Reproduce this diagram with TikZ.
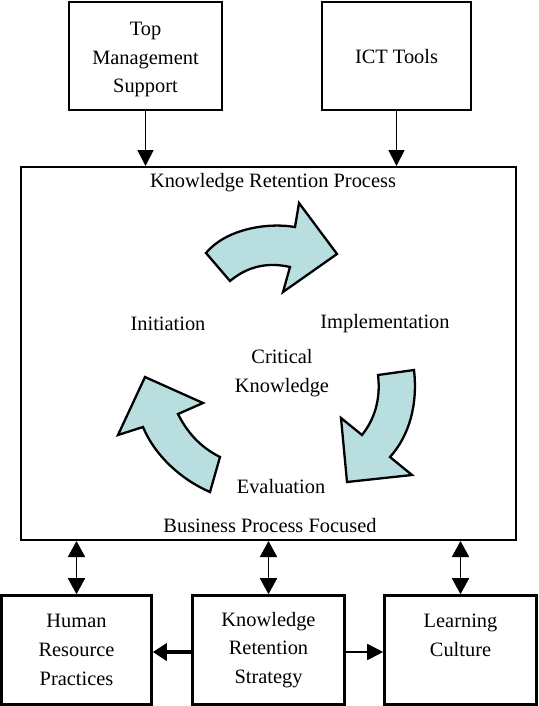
\documentclass[tikz,border=0pt]{standalone}
\usepackage{fontspec}
\setmainfont{Liberation Serif}
\usetikzlibrary{arrows.meta}
\definecolor{arrowfill}{RGB}{185,222,224}
\begin{document}
\begin{tikzpicture}[x=1pt,y=-1pt,
  txt/.style={font=\fontsize{20.4}{28.8}\selectfont, align=center, inner sep=0pt},
  topbox/.style={draw, line width=2.8pt, minimum width=153pt, minimum height=108pt, inner sep=0pt},
  botbox/.style={txt, draw, line width=2.6pt, minimum width=150pt, minimum height=109pt},
  conn/.style={line width=1.8pt, -{Triangle[length=16pt,width=16pt]}},
  dconn/.style={line width=1.8pt, {Triangle[length=16pt,width=17pt]}-{Triangle[length=16pt,width=17pt]}},
  cyc/.style={draw, line width=2.3pt, fill=arrowfill, line join=miter}
]
\useasboundingbox (0,0) rectangle (538,706);
% top boxes
\node[topbox, label={[txt, yshift=-3.5pt]center:Top\\Management\\Support}] (tm) at (145.5,56) {};
\node[topbox, minimum width=149pt, label={[txt, yshift=-1pt]center:ICT Tools}] (ict) at (396.5,56) {};
% big box
\node[draw, line width=2pt, minimum width=495pt, minimum height=373pt, inner sep=0pt] (big) at (268.5,353.5) {};
\node[txt] (krp) at (273,183) {Knowledge Retention Process};
\node[txt] (bpf) at (270,526) {Business Process Focused};
\node[txt] (ini) at (168,324) {Initiation};
\node[txt] (imp) at (385,324) {Implementation};
\node[txt] (ck) at (282,373) {Critical\\Knowledge};
\node[txt] (ev) at (281,487) {Evaluation};
% cycle arrows
\draw[cyc] (206,253) -- (230,281) .. controls (248,266) and (268,262) .. (290,267)
  -- (283,292) -- (337,254) -- (299,203) -- (295,227)
  .. controls (265,222) and (225,230) .. (206,253) -- cycle;
\draw[cyc] (378,375) -- (414,370) .. controls (418,405) and (409,436) .. (390,457)
  -- (412,475) -- (347,482) -- (341,418) -- (362,435)
  .. controls (374,420) and (381,400) .. (378,375) -- cycle;
\draw[cyc] (220,457) -- (210,492) .. controls (182,480) and (155,456) .. (143,427)
  -- (118,435) -- (145,377) -- (203,403) -- (178,414)
  .. controls (187,432) and (200,447) .. (220,457) -- cycle;
% bottom boxes
\node[botbox] (hr) at (76.5,650) {Human\\Resource\\Practices};
\node[botbox, minimum width=152pt] (krs) at (268.5,650) {Knowledge\\Retention\\Strategy};
\node[botbox, minimum width=152pt] (lc) at (460.5,650) {Learning\\Culture\\\mbox{}};
% connectors
\draw[conn] (tm.south) -- (tm.south |- big.north);
\draw[conn] (ict.south) -- (ict.south |- big.north);
\draw[dconn] (hr.north |- big.south) -- (hr.north);
\draw[dconn] (krs.north |- big.south) -- (krs.north);
\draw[dconn] (lc.north |- big.south) -- (lc.north);
\draw[conn, line width=3.8pt, -{Triangle[length=14pt,width=17pt]}] ([yshift=-2pt]krs.west) -- ([yshift=-2pt]krs.west -| hr.east);
\draw[conn] ([yshift=-2pt]krs.east) -- ([yshift=-2pt]krs.east -| lc.west);
\end{tikzpicture}
\end{document}
